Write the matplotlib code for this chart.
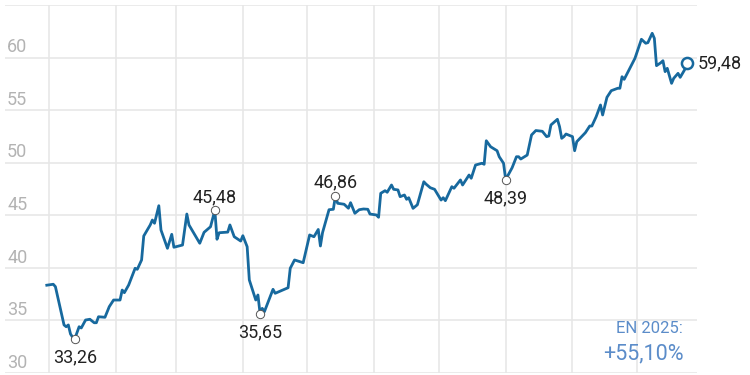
import numpy as np
import pandas as pd
import matplotlib
matplotlib.use("Agg")
import matplotlib.pyplot as plt
import matplotlib.dates as mdates

plt.rcParams['font.family'] = ['Roboto', 'DejaVu Sans']

#%% data (days counted from 1 Jan 2025, closing price)
days = [-1, 2, 3, 7, 8, 9, 10, 11, 12, 14, 15, 17, 19, 21, 22, 23, 26, 28, 30,
        33, 34, 35, 37, 40, 41, 43, 44, 47, 48, 49, 51, 52, 55, 57, 58, 62, 64, 65,
        70, 72, 75, 77, 78, 79, 83, 84, 86, 89, 90, 92, 93, 96, 97, 98, 99, 100,
        104, 105, 111, 112, 114, 118, 121, 123, 125, 126, 127, 130, 132, 133, 134,
        137, 139, 140, 142, 144, 146, 148, 149, 152, 153, 154, 156, 157, 159, 160,
        162, 163, 165, 166, 167, 169, 171, 174, 175, 177, 179, 182, 183, 184, 187,
        188, 191, 192, 195, 196, 198, 201, 202, 203, 205, 208, 209, 211, 212, 215,
        217, 218, 219, 222, 224, 226, 229, 231, 232, 233, 236, 237, 238, 239, 240,
        243, 244, 245, 249, 251, 252, 254, 256, 257, 259, 261, 264, 265, 266, 267,
        270, 272, 275, 277, 278, 280, 281, 282, 284, 285, 286, 287, 289, 290, 292,
        293, 295, 296]
price = [38.35, 38.44, 38.21, 34.57, 34.40, 34.57, 33.71, 33.40, 33.26, 34.40,
         34.28, 35.04, 35.11, 34.78, 34.78, 35.35, 35.30, 36.31, 36.94,
         36.94, 37.89, 37.64, 38.37, 39.96, 39.86, 40.75, 43.03, 44.08, 44.55,
         44.24, 45.91, 43.60, 41.86, 43.19, 41.96, 42.17, 45.12, 44.08,
         42.34, 43.38, 43.91, 45.48, 42.72, 43.34, 43.40, 44.08, 42.96, 42.55,
         43.06, 42.01, 38.85, 36.94, 37.42, 35.65, 36.15, 35.83,
         37.96, 37.58, 38.11, 39.96, 40.75, 40.49, 43.13, 42.96, 43.65, 42.08,
         43.36, 45.53, 45.57, 46.86, 46.14,
         46.05, 45.67, 46.20, 45.19, 45.53, 45.60, 45.57, 45.12, 45.03, 44.81,
         47.09, 47.34, 47.19, 47.88, 47.47,
         47.41, 46.77, 46.93, 46.52, 46.67, 45.66, 46.00, 48.19, 47.97, 47.62,
         47.47, 46.45, 46.67, 46.39, 47.72,
         47.57, 48.36, 47.88, 48.83, 48.52, 49.78, 49.95, 49.85, 52.09, 51.52,
         51.14, 50.57, 49.95, 48.39, 49.53,
         50.57, 50.57, 50.35, 50.73, 52.64, 53.06, 52.99, 52.48, 52.54, 53.59,
         54.13, 53.43, 52.32, 52.48, 52.73,
         52.48, 51.14, 52.00, 52.86, 53.49, 53.49, 54.38, 55.49, 54.54, 56.22,
         56.85, 57.08, 57.08, 58.18, 57.93,
         59.13, 59.93, 61.74, 61.36, 61.42, 62.31, 61.83, 59.23, 59.51, 59.70,
         58.66, 58.98, 57.55, 58.03, 58.50,
         58.12, 58.82, 59.48]

# highlighted lows / highs
mark_vals = [33.26, 45.48, 35.65, 46.86, 48.39]
mark_pos = ['below', 'above', 'below', 'above', 'below']

yticks = [30, 35, 40, 45, 50, 55, 60, 65]
ytick_labels = ['30', '35', '40', '45', '50', '55', '60', '']

ytd_title = 'EN 2025:'
ytd_change = '+55,10%'

#%% plot
start = pd.Timestamp('2025-01-01')
dates = start + pd.to_timedelta(days, unit='D')

line_col = '#17699e'
grid_col = '#e6e6e6'
fs = 13

fig = plt.figure(figsize=(7.5, 3.75), dpi=100)
ax = fig.add_axes([5/750, 2/375, 692/750, 368/375])

ax.plot(dates, price, color=line_col, lw=2.0, solid_joinstyle='round', zorder=3)

# circles + labels on turning points
for v, pos in zip(mark_vals, mark_pos):
    i = price.index(v)
    ax.plot(dates[i], v, 'o', ms=6, mfc='white', mec='#555555', mew=0.7, zorder=4)
    lbl = ('%.2f' % v).replace('.', ',')
    off = (0, 6) if pos == 'above' else (0, -17)
    ax.annotate(lbl, (dates[i], v), xytext=off, textcoords='offset points',
                ha='center', va='baseline', fontsize=fs, color='#222222')

# last value
ax.plot(dates[-1], price[-1], 'o', ms=8, mfc='white', mec=line_col, mew=1.8, zorder=5)
ax.annotate(('%.2f' % price[-1]).replace('.', ','), (dates[-1], price[-1]),
            xytext=(8, 0), textcoords='offset points', ha='left', va='center',
            fontsize=fs, color='#222222', annotation_clip=False)

ax.set_ylim(30, 65)
ax.set_xlim(start - pd.Timedelta(days=20.4), start + pd.Timedelta(days=300.8))

ax.set_yticks(yticks)
ax.set_yticklabels([])
ax.xaxis.set_major_locator(mdates.MonthLocator())
ax.set_xticklabels([])
ax.tick_params(length=0)
ax.grid(True, color=grid_col, lw=1.1)
ax.set_axisbelow(True)
for s in ax.spines.values():
    s.set_visible(False)

for t, lab in zip(yticks, ytick_labels):
    ax.text(0.003, t + 0.5, lab, transform=ax.get_yaxis_transform(),
            ha='left', va='baseline', fontsize=fs, color='#b3b3b3')

ax.text(0.98, 0.109, ytd_title, transform=ax.transAxes, ha='right', va='baseline',
        fontsize=12, color='#5b8cc9')
ax.text(0.98, 0.036, ytd_change, transform=ax.transAxes, ha='right', va='baseline',
        fontsize=15.5, color='#5b8cc9')

plt.savefig('out.png', dpi=100)
